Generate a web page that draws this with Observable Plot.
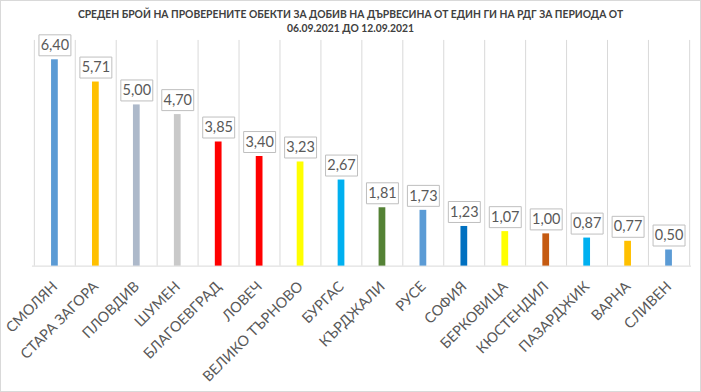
<!DOCTYPE html>
<html>
<head>
<meta charset="utf-8">
<script src="https://cdn.jsdelivr.net/npm/d3@7"></script>
<script src="https://cdn.jsdelivr.net/npm/@observablehq/plot@0.6"></script>
<style>
  body { margin: 0; background: #fff; }
  #wrap { position: relative; width: 699px; height: 390px; border: 1px solid #d9d9d9; background: #fff; overflow: hidden; }
  #title { position: absolute; left: 0; top: 6px; width: 699px; text-align: center; font-family: Lato, sans-serif; font-weight: bold; line-height: 14px; color: #404040; white-space: nowrap; }
  #chart { position: absolute; left: -1px; top: -1px; }
</style>
</head>
<body>
<div id="wrap">
  <div id="title"></div>
  <div id="chart"></div>
</div>
<script>
const titleLines = ["СРЕДЕН БРОЙ НА ПРОВЕРЕНИТЕ ОБЕКТИ ЗА ДОБИВ НА ДЪРВЕСИНА ОТ ЕДИН ГИ НА РДГ ЗА ПЕРИОДА ОТ", "06.09.2021 ДО 12.09.2021"];
const categories = ["СМОЛЯН","СТАРА ЗАГОРА","ПЛОВДИВ","ШУМЕН","БЛАГОЕВГРАД","ЛОВЕЧ","ВЕЛИКО ТЪРНОВО","БУРГАС","КЪРДЖАЛИ","РУСЕ","СОФИЯ","БЕРКОВИЦА","КЮСТЕНДИЛ","ПАЗАРДЖИК","ВАРНА","СЛИВЕН"];
const values = [6.40,5.71,5.00,4.70,3.85,3.40,3.23,2.67,1.81,1.73,1.23,1.07,1.00,0.87,0.77,0.50];
const colors = ["#5B9BD5","#FFC000","#ADB9CA","#C9C9C9","#FF0000","#FF0000","#FFFF00","#00B0F0","#548235","#5B9BD5","#0070C0","#FFFF00","#C55A11","#00B0F0","#FFC000","#5B9BD5"];

const data = categories.map((c, i) => ({name: c, value: values[i], color: colors[i]}));
const fmt = v => v.toFixed(2).replace(".", ",");

// fit font sizes to the reference text widths
const ctx = document.createElement("canvas").getContext("2d");
function fit(text, weight, target) {
  ctx.font = `${weight} 20px Lato`;
  return 20 * target / ctx.measureText(text).width;
}
const titleSize = fit(titleLines[0], "bold", 546);
const labelSize = fit("ВЕЛИКО ТЪРНОВО", "normal", 135);

const titleEl = document.getElementById("title");
titleEl.style.fontSize = titleSize + "px";
titleEl.innerHTML = titleLines.join("<br>");

const W = 701, H = 392, mL = 32, mR = 9, mT = 40, mB = 126;
const bw = (W - mL - mR) / categories.length;
const boxSymbol = { draw(c) { c.rect(-16, -10.5, 32, 21); } };

const chart = Plot.plot({
  width: W, height: H,
  marginLeft: mL, marginRight: mR, marginTop: mT, marginBottom: mB,
  style: { fontFamily: "Lato, sans-serif", background: "transparent", overflow: "visible" },
  x: { domain: categories, padding: 0, axis: null },
  y: { domain: [0, 7], axis: null },
  marks: [
    Plot.ruleX(categories, { x: d => d, dx: -bw / 2, stroke: "#d9d9d9", strokeWidth: 1 }),
    Plot.ruleX([categories[categories.length - 1]], { x: d => d, dx: bw / 2, stroke: "#d9d9d9", strokeWidth: 1 }),
    Plot.ruleY([0], { stroke: "#d9d9d9", strokeWidth: 1 }),
    Plot.barY(data, { x: "name", y: "value", fill: d => d.color, insetLeft: (bw - 7) / 2, insetRight: (bw - 7) / 2 }),
    Plot.dot(data, { x: "name", y: "value", dy: -14.5, symbol: boxSymbol, r: 5, fill: "white", stroke: "#bfbfbf", strokeWidth: 1 }),
    Plot.text(data, { x: "name", y: "value", dy: -14.5, text: d => fmt(d.value), fill: "#595959", fontSize: 14.5 }),
    Plot.text(categories, { x: d => d, frameAnchor: "bottom", dy: 18, dx: 0, rotate: -45, textAnchor: "end", lineAnchor: "middle", fill: "#595959", fontSize: labelSize })
  ]
});
document.getElementById("chart").appendChild(chart);
</script>
</body>
</html>
